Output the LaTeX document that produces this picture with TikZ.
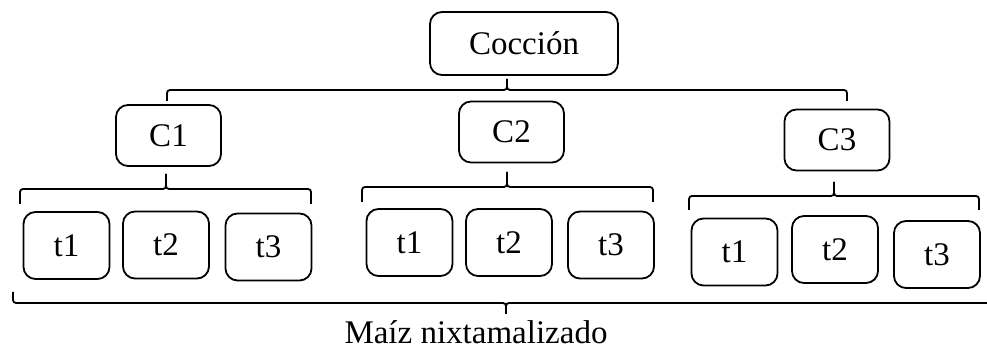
\documentclass[tikz,border=0pt]{standalone}
\usepackage{fontspec}
\setmainfont{Liberation Serif}
\usetikzlibrary{positioning}

\begin{document}
\begin{tikzpicture}[x=0.5pt, y=-0.5pt]
	\tikzset{box/.style={draw, rounded corners=6pt, line width=0.9pt, inner sep=0pt, font=\fontsize{16.5}{20}\selectfont}}
	\tikzset{cbox/.style={box, minimum width=52.5pt, minimum height=30.5pt}}
	\tikzset{tbox/.style={box, minimum width=43pt, minimum height=33.5pt}}
	\tikzset{curly/.style={draw, rounded corners=1.5pt, line width=0.9pt}}

	\useasboundingbox (0,0) rectangle (987,351);
	\clip (0,0) rectangle (987,351);

	\node (cocc) [box, minimum width=94pt, minimum height=31.5pt] at (524,43.5) {Cocción};
	\node (c1) [cbox] at (168.5,135.5) {C1};
	\node (c2) [cbox] at (511.5,132) {C2};
	\node (c3) [cbox] at (837,140) {C3};

	\foreach \name/\lbl/\x/\y in {a1/t1/66.5/245.5, a2/t2/166/245, a3/t3/268.5/247,
			b1/t1/409.5/242.5, b2/t2/509/242.5, b3/t3/611/245,
			d1/t1/734.5/252, d2/t2/835/249.5, d3/t3/937/254.5}
		\node (\name) [tbox] at (\x,\y) {\lbl};

	% braces: left end, right end, middle, tip
	\foreach \b/\l/\r/\m/\h/\t in {top/167/847/507/90/79, g1/20/311/166/189/174,
			g2/362/653/507/187/172, g3/689/979/834/196/182, all/13/999/506/303/314}
	{
		\coordinate (\b l) at (\l,2*\h-\t);
		\coordinate (\b r) at (\r,2*\h-\t);
		\coordinate (\b m) at (\m,\h);
		\coordinate (\b t) at (\m,\t);
		\draw[curly] (\b l) |- (\b m) -- (\b t);
		\draw[curly] (\b r) |- (\b m) -- (\b t);
	}

	\node (maiz) [font=\fontsize{16.5}{20}\selectfont, anchor=base] at (476,344) {Maíz nixtamalizado};
\end{tikzpicture}
\end{document}
